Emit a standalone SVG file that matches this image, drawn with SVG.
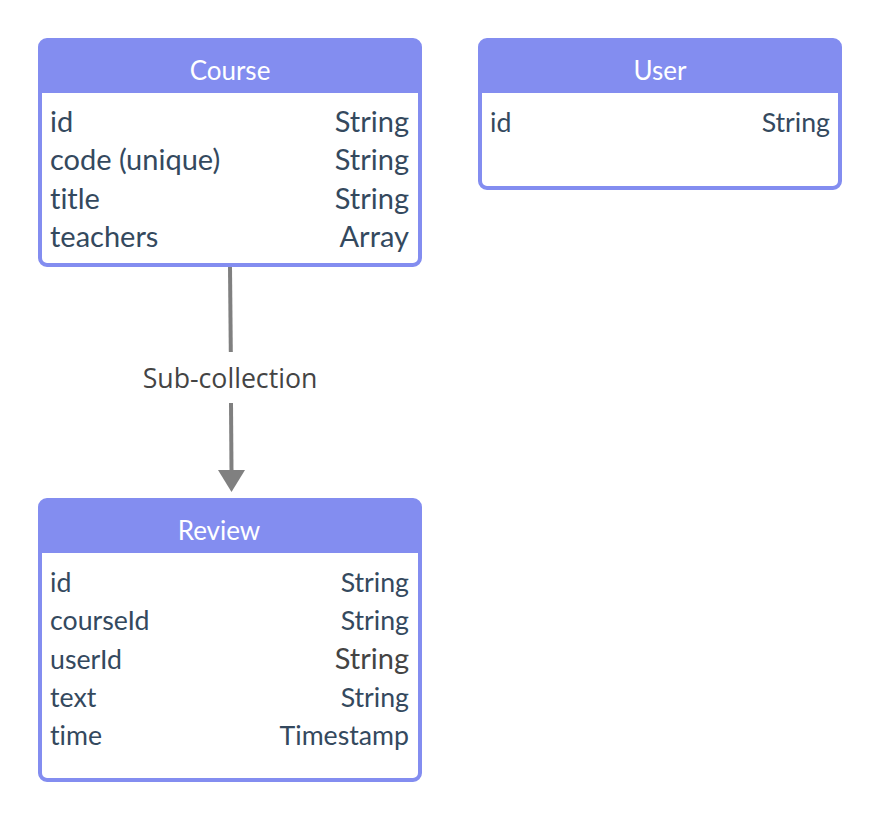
<svg xmlns="http://www.w3.org/2000/svg" width="880" height="820" viewBox="0 0 880 820">
<defs>
<style>
text{font-variant-ligatures:none}
.box{fill:#ffffff;stroke:#838DF0;stroke-width:4}
.hdr{fill:#838DF0}
.title{font-family:Lato,"Liberation Sans",sans-serif;font-size:26px;fill:#ffffff;text-anchor:middle}
.f{font-family:Lato,"Liberation Sans",sans-serif;font-size:29px;fill:#34495E}
.t{font-family:Lato,"Liberation Sans",sans-serif;font-size:29px;fill:#34495E;text-anchor:end}
.s{font-size:26.7px}
.g{fill:#444444}
.lbl{font-family:"Open Sans","Noto Sans",sans-serif;font-size:26.7px;fill:#444444;text-anchor:middle}
.conn{stroke:#808080;stroke-width:4;fill:none}
</style>
</defs>
<rect width="880" height="820" fill="#ffffff"/>
<g id="connectors">
<line class="conn" x1="230" y1="267" x2="230.8" y2="352"/>
<line class="conn" x1="231" y1="403" x2="231.5" y2="472"/>
<path d="M218,470 L245,470 L231.5,492 Z" fill="#808080"/>
<text class="lbl" x="230" y="388">Sub-collection</text>
</g>
<g id="course">
<rect class="box" x="40" y="40" width="380" height="225" rx="7"/>
<path class="hdr" d="M40,93 V47 A7,7 0 0 1 47,40 H413 A7,7 0 0 1 420,47 V93 Z"/>
<text class="title" x="230" y="80">Course</text>
<text class="f" x="50" y="132">id</text><text class="t" x="409" y="132">String</text>
<text class="f" x="50" y="170">code (unique)</text><text class="t" x="409" y="170">String</text>
<text class="f" x="50" y="208.5">title</text><text class="t" x="409" y="208.5">String</text>
<text class="f" x="50" y="247">teachers</text><text class="t" x="409" y="247">Array</text>
</g>
<g id="user">
<rect class="box" x="480" y="40" width="360" height="148" rx="7"/>
<path class="hdr" d="M480,93 V47 A7,7 0 0 1 487,40 H833 A7,7 0 0 1 840,47 V93 Z"/>
<text class="title" x="660" y="80">User</text>
<text class="f s" x="490" y="132">id</text><text class="t s" x="830" y="132">String</text>
</g>
<g id="review">
<rect class="box" x="40" y="500" width="380" height="280" rx="7"/>
<path class="hdr" d="M40,553 V507 A7,7 0 0 1 47,500 H413 A7,7 0 0 1 420,507 V553 Z"/>
<text class="title" x="219" y="540">Review</text>
<text class="f s" x="50" y="592">id</text><text class="t s" x="409" y="592">String</text>
<text class="f s" x="50" y="630">courseId</text><text class="t s" x="409" y="630">String</text>
<text class="f s" x="50" y="668.5">userId</text><text class="t g" x="409" y="669">String</text>
<text class="f s" x="50" y="706.5">text</text><text class="t s" x="409" y="706.5">String</text>
<text class="f s" x="50" y="745">time</text><text class="t s" x="409" y="745">Timestamp</text>
</g>
</svg>
